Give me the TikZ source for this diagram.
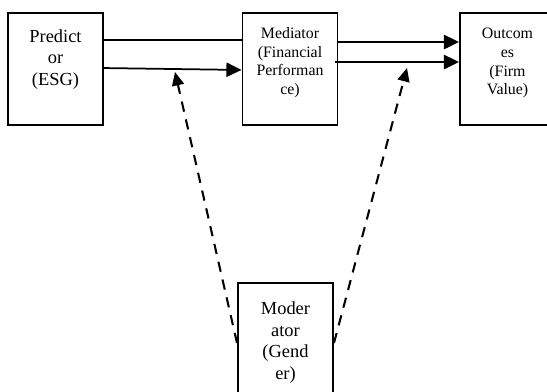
\documentclass[tikz,border=0pt]{standalone}
\usepackage{fontspec}
\setmainfont{Liberation Serif}
\usetikzlibrary{arrows.meta}

\begin{document}
\begin{tikzpicture}[x=0.63pt,y=-0.63pt,
	box/.style={draw,line width=1.2pt,minimum width=59.9pt,minimum height=70.6pt,inner sep=0pt},
	bigtext/.style={anchor=north,inner sep=0pt,align=center,font=\fontsize{11.6}{13.8}\selectfont},
	smalltext/.style={anchor=north,inner sep=0pt,align=center,font=\fontsize{10}{11.8}\selectfont},
	link/.style={line width=1.1pt,-{Triangle[length=9.5pt,width=9pt]}},
	modlink/.style={line width=1.3pt,dash pattern=on 6.5pt off 5pt,-{Triangle[length=8.5pt,width=7.5pt]}}]

	\useasboundingbox (0,0) rectangle (547,392);

	% boxes
	\node[box] (pred) at (55.5,69) {};
	\node[box] (med) at (290,69) {};
	\node[box] (out) at (507.5,69) {};
	\node[box] (mod) at (285.5,339) {};

	% texts
	\node[bigtext] (predtext) at ([yshift=-10.7pt]pred.north) {Predict\\or\\(ESG)};
	\node[smalltext] (medtext) at ([yshift=-9.5pt]med.north) {Mediator\\(Financial\\Performan\\ce)};
	\node[smalltext] (outtext) at ([yshift=-10pt]out.north) {Outcom\\es\\(Firm\\Value)};
	\node[bigtext] (modtext) at ([yshift=-12pt]mod.north) {Moder\\ator\\(Gend\\er)};

	% free ends of the moderator arrows
	\coordinate (tipa) at (175,72);
	\coordinate (tipb) at (407,68);

	\draw[line width=1.1pt] ([yshift=18.3pt]pred.east) -- ([yshift=18.3pt]med.west);
	\draw[link] ([yshift=0.6pt]pred.east) -- ([yshift=-0.6pt]med.west);
	\draw[link] ([yshift=17pt]med.east) -- ([yshift=17pt]out.west);
	\draw[link] ([xshift=-2pt,yshift=4.4pt]med.east) -- ([yshift=4.4pt]out.west);

	\draw[modlink] ([yshift=-2.5pt]mod.west) -- (tipa);
	\draw[modlink] ([yshift=-2.5pt]mod.east) -- (tipb);

\end{tikzpicture}
\end{document}
